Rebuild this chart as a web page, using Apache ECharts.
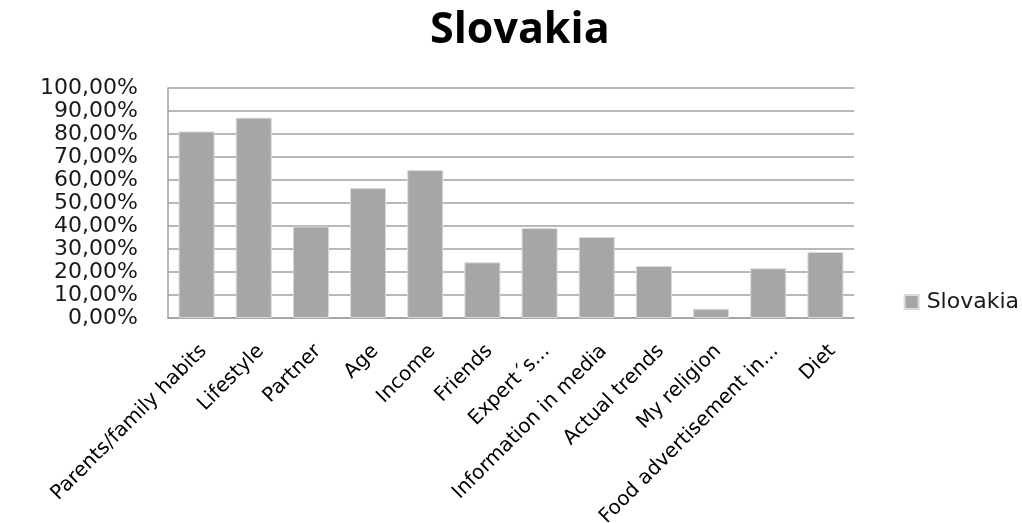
<!DOCTYPE html>
<html>
<head>
<meta charset="utf-8">
<script src="https://cdn.jsdelivr.net/npm/echarts@6/dist/echarts.min.js"></script>
<style>
  html, body { margin: 0; padding: 0; background: #ffffff; }
  #chart { width: 1022px; height: 523px; }
</style>
</head>
<body>
<div id="chart"></div>
<script>
// Factors influencing food choice, share of respondents
const categories = [
  'Parents/family habits', 'Lifestyle', 'Partner', 'Age', 'Income', 'Friends',
  'Expert´s...', 'Information in media', 'Actual trends', 'My religion',
  'Food advertisement in...', 'Diet'
];
const slovakiaValues = [81.1, 87.1, 39.8, 56.5, 64.3, 24.2, 39.1, 35.2, 22.6, 4.0, 21.6, 28.7];
const yTicks = { min: 0, max: 100, interval: 10 };
const seriesName = 'Slovakia';

const LABEL_FONT = 'DejaVu Sans';
const TITLE_FONT = 'Open Sans';
const chart = echarts.init(document.getElementById('chart'));
chart.setOption({
  animation: false,
  backgroundColor: '#ffffff',
  title: {
    text: 'Slovakia',
    left: 425,
    top: 4,
    textStyle: { fontFamily: TITLE_FONT, fontWeight: 'bold', fontSize: 43, color: '#000000' }
  },
  legend: {
    right: 3,
    top: 291,
    padding: 0,
    itemWidth: 14,
    itemHeight: 14,
    itemGap: 10,
    icon: 'rect',
    textStyle: { fontFamily: LABEL_FONT, fontSize: 22, color: '#1a1a1a', padding: [0, 0, 0, 3] },
    data: [seriesName]
  },
  grid: { left: 168, right: 168, top: 88, bottom: 205, containLabel: false, outerBoundsMode: 'none' },
  xAxis: {
    type: 'category',
    data: categories,
    axisLine: { show: true, lineStyle: { color: '#a0a0a0', width: 1.5 } },
    axisTick: { show: false },
    axisLabel: {
      rotate: 45,
      interval: 0,
      margin: 23,
      verticalAlign: 'top',
      fontFamily: LABEL_FONT,
      fontSize: 20,
      color: '#000000'
    }
  },
  yAxis: {
    type: 'value',
    min: yTicks.min,
    max: yTicks.max,
    interval: yTicks.interval,
    axisLine: { show: true, lineStyle: { color: '#a0a0a0', width: 1.5 } },
    axisTick: { show: false },
    splitLine: { show: true, lineStyle: { color: '#a0a0a0', width: 1.5 } },
    axisLabel: {
      margin: 30,
      fontFamily: LABEL_FONT,
      fontSize: 22,
      color: '#1a1a1a',
      lineHeight: 22,
      formatter: v => v.toFixed(2).replace('.', ',') + '%'
    }
  },
  series: [{
    name: seriesName,
    type: 'bar',
    data: slovakiaValues,
    barCategoryGap: '37%',
    itemStyle: { color: '#a6a6a6', borderColor: '#d9d9d9', borderWidth: 1 }
  }]
});
</script>
</body>
</html>
